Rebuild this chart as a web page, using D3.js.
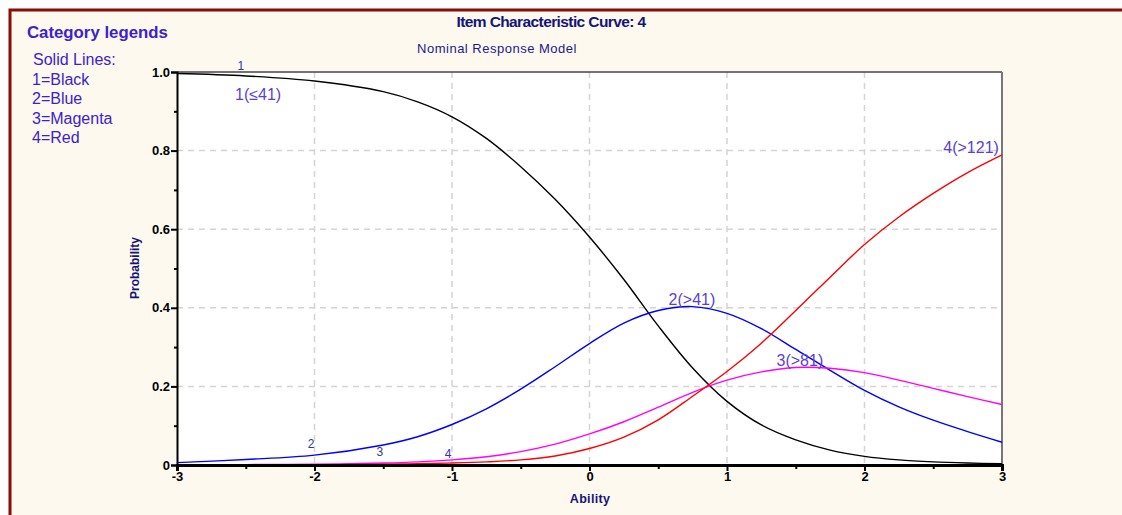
<!DOCTYPE html>
<html><head><meta charset="utf-8">
<script src="https://cdn.jsdelivr.net/npm/d3@7"></script>
<style>
html,body{margin:0;padding:0;background:#fff;}
svg{display:block;}
</style></head>
<body>
<script>
// ---- data ----
const abilities = [-3,-2.5,-2,-1.5,-1.25,-1,-0.75,-0.5,-0.25,0,0.25,0.5,0.75,1,1.25,1.5,1.75,2,2.25,2.5,2.75,3];
const cat1Black   = [0.996,0.99,0.977,0.95,0.924,0.886,0.831,0.759,0.676,0.58,0.472,0.354,0.247,0.162,0.102,0.064,0.038,0.022,0.013,0.008,0.005,0.003];
const cat2Blue    = [0.006,0.014,0.025,0.051,0.072,0.103,0.143,0.193,0.25,0.309,0.361,0.393,0.403,0.386,0.347,0.294,0.241,0.19,0.148,0.114,0.085,0.058];
const cat3Magenta = [0.0005,0.001,0.002,0.005,0.008,0.013,0.021,0.034,0.053,0.079,0.11,0.147,0.185,0.216,0.237,0.248,0.246,0.235,0.216,0.195,0.174,0.154];
const cat4Red     = [0.0001,0.0003,0.0007,0.002,0.003,0.005,0.008,0.013,0.023,0.042,0.071,0.115,0.175,0.238,0.31,0.393,0.478,0.561,0.631,0.691,0.744,0.789];
const seriesNames = ["1","2","3","4"];
const seriesColors = ["#000000","#0000ff","#ff00ff","#ff0000"];
const curveLabels = ["1(≤41)","2(>41)","3(>81)","4(>121)"];
const xTicks = [-3,-2,-1,0,1,2,3];
const yTicks = [0,0.2,0.4,0.6,0.8,1.0];
const yTickLabels = ["0","0.2","0.4","0.6","0.8","1.0"];
const legendLines = ["Solid Lines:","1=Black","2=Blue","3=Magenta","4=Red"];
// label anchor points in data coordinates [ability, probability]
const smallLabelAt = [[-2.535,1.005],[-2.025,0.043],[-1.524,0.023],[-1.029,0.018]];
const bigLabelAt = [[-2.41,0.929],[0.745,0.407],[1.53,0.252],[2.775,0.794]];

const W = 1122, H = 515;
const svg = d3.select("body").append("svg").attr("width", W).attr("height", H);
const FONT = "Liberation Sans, Arial, sans-serif";

// frame
svg.append("rect").attr("x",0).attr("y",0).attr("width",W).attr("height",H).attr("fill","#ffffff");
svg.append("rect").attr("x",10).attr("y",10).attr("width",W+20).attr("height",H+20)
  .attr("fill","#fdf9ee").attr("stroke","#8b0a0a").attr("stroke-width",3);

const L = 177, R = 1002, T = 72, B = 465;
const x = d3.scaleLinear().domain([-3,3]).range([L,R]);
const y = d3.scaleLinear().domain([0,1]).range([B,T]);

svg.append("rect").attr("x",L).attr("y",T).attr("width",R-L).attr("height",B-T).attr("fill","#ffffff");

// grid
const grid = svg.append("g").attr("stroke","#d4d4d4").attr("stroke-width",1.5).attr("stroke-dasharray","6,5");
grid.selectAll(".gx").data(xTicks.slice(1,-1)).join("line")
  .attr("x1",d=>x(d)).attr("x2",d=>x(d)).attr("y1",T).attr("y2",B);
grid.selectAll(".gy").data(yTicks.slice(1,-1)).join("line")
  .attr("x1",L).attr("x2",R).attr("y1",d=>y(d)).attr("y2",d=>y(d));

// top/right border
svg.append("line").attr("x1",L).attr("x2",R).attr("y1",T).attr("y2",T).attr("stroke","#444").attr("stroke-width",1.5);
svg.append("line").attr("x1",R).attr("x2",R).attr("y1",T).attr("y2",B).attr("stroke","#777").attr("stroke-width",2);

// curves
const allSeries = [cat1Black,cat2Blue,cat3Magenta,cat4Red];
const line = d3.line().x(d=>x(d[0])).y(d=>y(d[1])).curve(d3.curveCatmullRom.alpha(0.5));
const plot = svg.append("g");
allSeries.forEach((s,i)=>{
  plot.append("path").datum(abilities.map((a,j)=>[a,s[j]]))
    .attr("fill","none").attr("stroke",seriesColors[i]).attr("stroke-width",1.4).attr("d",line);
});

// axes
const xAxis = d3.axisBottom(x).tickValues(xTicks).tickSize(6).tickPadding(1).tickFormat(d=>String(d));
const gx = svg.append("g").attr("transform",`translate(0,${B})`).call(xAxis);
const xMinor = d3.axisBottom(x).tickValues(d3.range(-2.5,3,1)).tickSize(4).tickFormat("");
svg.append("g").attr("transform",`translate(0,${B})`).call(xMinor).call(g=>g.select(".domain").remove());
const yAxis = d3.axisLeft(y).tickValues(yTicks).tickSize(6).tickPadding(1).tickFormat((d,i)=>yTickLabels[i]);
const gy = svg.append("g").attr("transform",`translate(${L},0)`).call(yAxis);
const yMinor = d3.axisLeft(y).tickValues([0.1,0.3,0.5,0.7,0.9]).tickSize(3).tickFormat("");
svg.append("g").attr("transform",`translate(${L},0)`).call(yMinor).call(g=>g.select(".domain").remove());

svg.selectAll(".tick line").attr("stroke","#000").attr("stroke-width",2);
gx.select(".domain").attr("stroke","#000").attr("stroke-width",3);
gy.select(".domain").attr("stroke","#000").attr("stroke-width",2);
svg.selectAll(".tick text").attr("font-family",FONT)
  .attr("font-size",13).attr("font-weight","bold").attr("fill","#000");

// titles
const navy = "#14147a";
svg.append("text").attr("x",551).attr("y",27).attr("text-anchor","middle")
  .attr("font-family",FONT).attr("font-size",15.5).attr("font-weight","bold")
  .attr("letter-spacing","-0.6").attr("fill",navy).text("Item Characteristic Curve: 4");
svg.append("text").attr("x",497).attr("y",53).attr("text-anchor","middle")
  .attr("font-family",FONT).attr("font-size",13)
  .attr("letter-spacing","0.5").attr("fill","#1a1a90").text("Nominal Response Model");
svg.append("text").attr("x",590).attr("y",503).attr("text-anchor","middle")
  .attr("font-family",FONT).attr("font-size",12.5).attr("font-weight","bold")
  .attr("letter-spacing","0.3").attr("fill",navy).text("Ability");
svg.append("text").attr("transform","translate(139,268) rotate(-90)").attr("text-anchor","middle")
  .attr("font-family",FONT).attr("font-size",12).attr("font-weight","bold")
  .attr("fill",navy).text("Probability");

// legend
const legCol = "#3c22cc";
svg.append("text").attr("x",27).attr("y",38)
  .attr("font-family",FONT).attr("font-size",16.8).attr("font-weight","bold")
  .attr("fill",legCol).text("Category legends");
svg.append("g").selectAll("text").data(legendLines).join("text")
  .attr("x",(d,i)=>i===0?33:32).attr("y",(d,i)=>65+i*19.6)
  .attr("font-family",FONT).attr("font-size",16)
  .attr("fill",legCol).text(d=>d);

// curve labels
const smallCol = "#3434aa";
const bigCol = "#5a3fd0";
svg.append("g").selectAll("text").data(seriesNames).join("text")
  .attr("x",(d,i)=>x(smallLabelAt[i][0])).attr("y",(d,i)=>y(smallLabelAt[i][1]))
  .attr("text-anchor","middle").attr("font-family",FONT).attr("font-size",12)
  .attr("fill",smallCol).text(d=>d);
svg.append("g").selectAll("text").data(curveLabels).join("text")
  .attr("x",(d,i)=>x(bigLabelAt[i][0])).attr("y",(d,i)=>y(bigLabelAt[i][1]))
  .attr("text-anchor","middle").attr("font-family",FONT).attr("font-size",16)
  .attr("fill",bigCol).text(d=>d);
</script>
</body></html>
